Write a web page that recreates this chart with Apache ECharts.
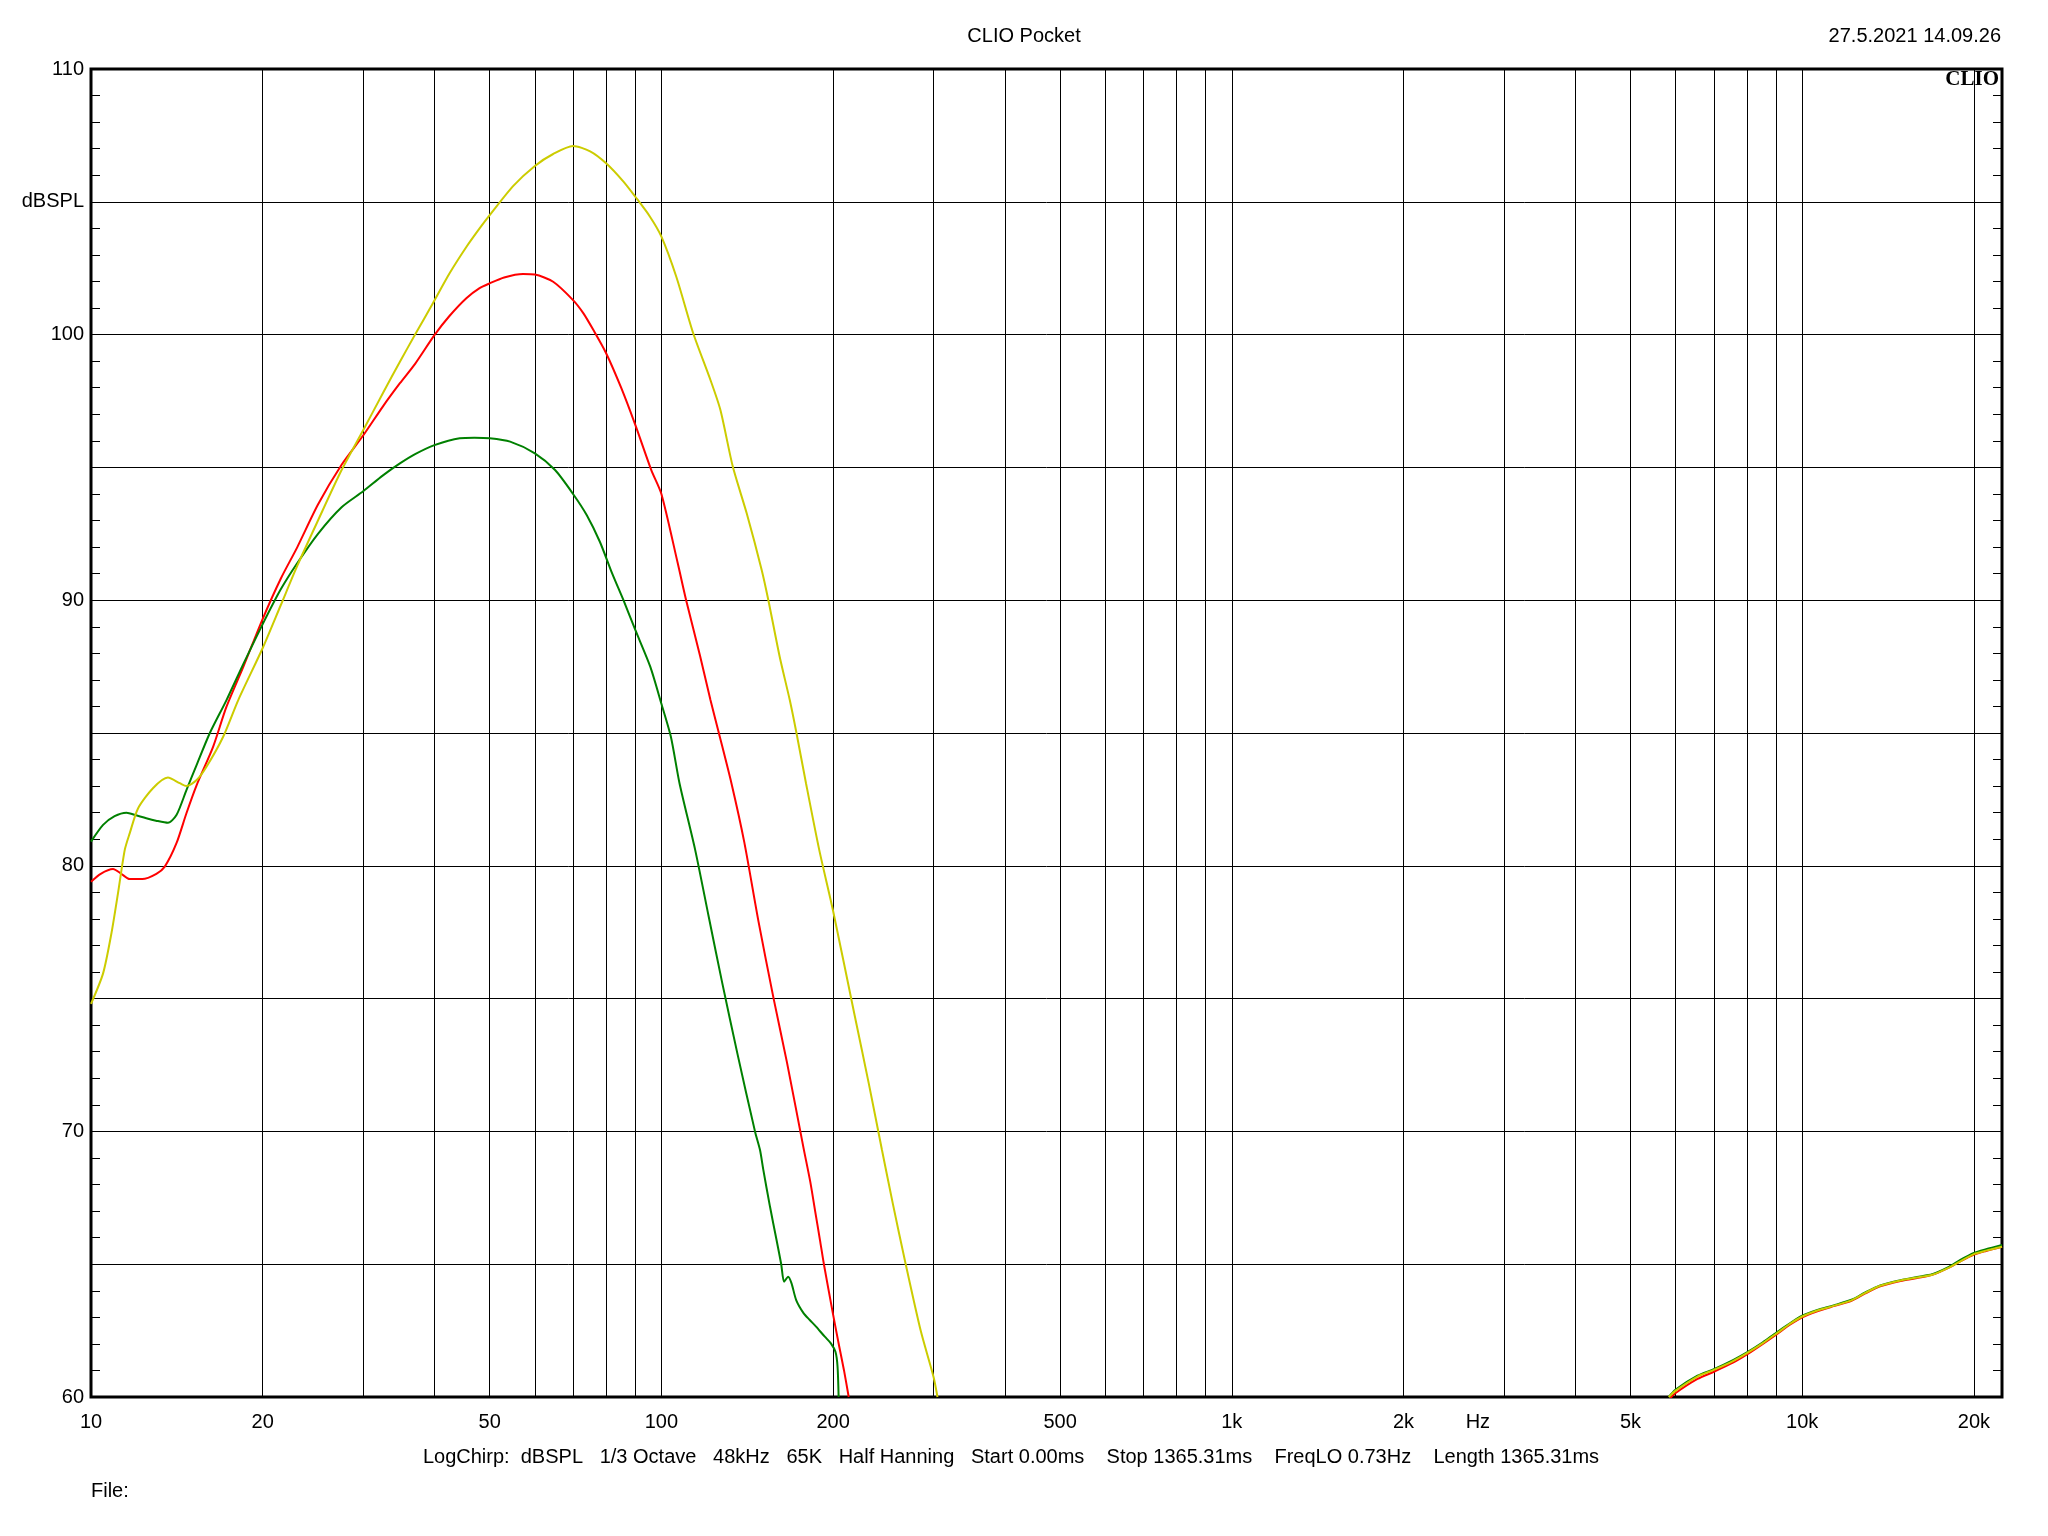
<!DOCTYPE html>
<html><head><meta charset="utf-8">
<script src="https://cdn.jsdelivr.net/npm/echarts@6/dist/echarts.min.js"></script>
<style>html,body{margin:0;padding:0;background:#fff}#c{width:2048px;height:1536px}</style>
</head><body><div id="c"></div>
<script>
// ---- axis definitions ----
const gridFreqs = [10,20,30,40,50,60,70,80,90,100,200,300,400,500,600,700,800,900,
  1000,2000,3000,4000,5000,6000,7000,8000,9000,10000,20000];
const xLabelValues = [10,20,50,100,200,500,1000,2000,2700,5000,10000,20000];
const xLabelTexts  = ['10','20','50','100','200','500','1k','2k','Hz','5k','10k','20k'];
const yLabelValues = [110,105,100,90,80,70,60];
const yLabelTexts  = ['110','dBSPL','100','90','80','70','60'];

// ---- red trace ----
const redFreq = [10,10.4,10.93,11.3,11.69,12.3,13.02,13.47,14.12,14.7,15.32,16.37,17.28,18.5,20,21.5,23,25,27.5,30,32.5,34.8,37,40,42.5,45.5,48,50,53,57.2,60,64.6,70,73,76,80,85,90,96,100,106.8,110.5,116.9,121.9,126.1,132.7,139.7,148,157.3,166,177.4,182.4,186,189.7,192.7,200,205,209,213,
  null,
  5834,6000,6552,7000,7576,8000,8530,9000,9560,10000,10600,11350,12200,12900,13700,14870,15900,16900,18000,18900,20000,21000,22400];
const redDb = [79.4,79.7,79.88,79.7,79.5,79.5,79.7,79.97,80.85,81.98,83.04,84.48,85.99,87.5,89.3,90.8,92.0,93.6,95.1,96.2,97.3,98.17,98.9,99.98,100.7,101.37,101.75,101.93,102.15,102.28,102.26,101.99,101.3,100.8,100.17,99.3,98.0,96.6,94.9,94.0,91.4,90.0,87.9,86.24,85.0,83.1,80.9,77.9,75.0,72.6,69.4,68.1,67.0,65.9,65.0,63.1,61.9,61.0,60.0,
  null,
  59.9,60.15,60.68,60.95,61.3,61.6,62.0,62.35,62.75,63.0,63.22,63.42,63.62,63.9,64.17,64.37,64.48,64.6,64.85,65.1,65.36,65.5,65.66];

// ---- green trace ----
const greenFreq = [10,10.5,11.0,11.54,12.0,12.5,13.0,13.64,14.12,14.7,15.32,16.15,17.28,18.5,20,21.5,23,25,27.5,30,32.5,34.8,37,40,44.3,47,50,54.3,60,65.1,70,74,78,82,85.8,90,95.6,100,103.9,107.6,114.6,121,127.8,136,145.9,148.9,150.9,155,159.2,162.2,164.1,166.8,169.1,172.3,177.6,182,186.7,193.4,198.2,201.9,203.6,204.5,
  null,
  5834,6000,6552,7000,7576,8000,8530,9000,9560,10000,10600,11350,12200,12900,13700,14870,15900,16900,18000,18900,20000,21000,22400];
const greenDb = [80.91,81.54,81.87,82.0,81.9,81.79,81.7,81.62,81.91,82.85,83.8,84.99,86.24,87.6,89.1,90.4,91.4,92.5,93.5,94.1,94.7,95.15,95.5,95.84,96.1,96.12,96.1,95.97,95.53,94.9,94.0,93.2,92.2,91.0,90.0,88.88,87.5,86.1,84.86,83.1,80.6,78.1,75.6,72.9,70.0,69.3,68.55,67.17,65.9,65.0,64.34,64.53,64.28,63.65,63.15,62.9,62.65,62.27,62.02,61.7,61.15,60.0,
  null,
  60.0,60.28,60.8,61.05,61.4,61.68,62.06,62.42,62.8,63.06,63.27,63.45,63.66,63.94,64.2,64.4,64.52,64.62,64.88,65.15,65.42,65.56,65.72];

// ---- yellow trace ----
const yellowFreq = [10,10.5,10.86,11.15,11.46,11.69,12.09,12.84,13.64,14.31,14.7,15.32,15.94,17.05,18.12,20,21.5,23,25,27.5,30,32.5,34.8,37,39.8,42.5,45.5,48,50,55,60,64.6,70,75,80,85.8,90,95.5,100,106.2,113.7,121.9,126.9,133.4,141.1,149.9,154,161.2,167.9,172.5,179.3,189.1,200,218,231,243.6,254.4,268.1,284.8,300,304.8,
  null,
  5834,6000,6552,7000,7576,8000,8530,9000,9560,10000,10600,11350,12200,12900,13700,14870,15900,16900,18000,18900,20000,21000,22400];
const yellowDb = [74.8,75.95,77.46,78.96,80.6,81.22,82.16,82.92,83.32,83.11,83.0,83.23,83.73,84.86,86.24,88.2,89.8,91.3,93.0,94.9,96.4,97.8,98.98,100.0,101.2,102.3,103.3,104.0,104.5,105.6,106.35,106.8,107.1,106.9,106.45,105.76,105.19,104.44,103.69,102.18,100.05,98.29,97.16,95.03,93.27,91.14,90.0,87.87,86.24,85.0,83.1,80.6,78.3,74.4,71.8,69.3,67.3,65.0,62.5,60.75,60.0,
  null,
  60.0,60.24,60.77,61.02,61.36,61.65,62.03,62.38,62.78,63.03,63.25,63.43,63.64,63.92,64.19,64.39,64.5,64.6,64.85,65.1,65.38,65.51,65.66];

function pairs(fs, ds){
  return fs.map((f,i) => (f === null || ds[i] === null) ? ['-','-'] : [f, ds[i]]);
}

const FONT = 'Liberation Sans';
const FS = 20;
const chart = echarts.init(document.getElementById('c'), null, {renderer:'canvas'});

const yAxisBase = {
  type:'value', min:60, max:110, interval:5,
  axisLine:{show:false},
  axisTick:{show:true, inside:true, length:9, lineStyle:{color:'#000', width:1}},
  minorTick:{show:true, splitNumber:5, length:9, lineStyle:{color:'#000', width:1}},
};

const lineBase = {type:'line', showSymbol:false, symbol:'none', smooth:0.25, connectNulls:false,
  clip:true, animation:false};

chart.setOption({
  backgroundColor:'#fff',
  animation:false,
  grid:{left:91, top:69, right:46, bottom:139, show:true, borderColor:'#000', borderWidth:3, backgroundColor:'transparent'},
  xAxis:{
    type:'log', logBase:10, min:10, max:22400,
    axisLine:{show:false},
    axisTick:{show:false, customValues:gridFreqs},
    splitLine:{show:true, lineStyle:{color:'#000', width:1}},
    axisLabel:{
      customValues:xLabelValues,
      formatter: v => { const i = xLabelValues.findIndex(x => Math.abs(x - v) < 1e-6 * x); return i >= 0 ? xLabelTexts[i] : ''; },
      fontSize:FS, color:'#000', fontFamily:FONT, margin:15, showMinLabel:true, showMaxLabel:true
    }
  },
  yAxis:[
    Object.assign({}, yAxisBase, {
      position:'left',
      splitLine:{show:true, lineStyle:{color:'#000', width:1}},
      axisLabel:{fontSize:FS, color:'#000', fontFamily:FONT, margin:7,
        formatter: v => { const i = yLabelValues.indexOf(v); return i >= 0 ? yLabelTexts[i] : ''; }}
    }),
    Object.assign({}, yAxisBase, {
      position:'right',
      splitLine:{show:false},
      axisLabel:{show:false}
    })
  ],
  series:[
    Object.assign({}, lineBase, {name:'red', data:pairs(redFreq, redDb), lineStyle:{color:'#ff0000', width:2}, itemStyle:{color:'#ff0000'}}),
    Object.assign({}, lineBase, {name:'green', data:pairs(greenFreq, greenDb), lineStyle:{color:'#008000', width:2}, itemStyle:{color:'#008000'}}),
    Object.assign({}, lineBase, {name:'yellow', data:pairs(yellowFreq, yellowDb), lineStyle:{color:'#cccc00', width:2}, itemStyle:{color:'#cccc00'}})
  ],
  graphic:[
    {type:'text', x:1024, y:36, style:{text:'CLIO Pocket', fontSize:FS, fontFamily:FONT, fill:'#000', align:'center', verticalAlign:'middle'}},
    {type:'text', x:2001, y:36, style:{text:'27.5.2021 14.09.26', fontSize:FS, fontFamily:FONT, fill:'#000', align:'right', verticalAlign:'middle'}},
    {type:'text', x:1999, y:80, z:100, style:{text:'CLIO', fontSize:21, fontWeight:'bold', fontFamily:'Liberation Serif', fill:'#000', align:'right', verticalAlign:'middle'}},
    {type:'text', x:1011, y:1457, style:{text:'LogChirp:  dBSPL   1/3 Octave   48kHz   65K   Half Hanning   Start 0.00ms    Stop 1365.31ms    FreqLO 0.73Hz    Length 1365.31ms', fontSize:FS, fontFamily:FONT, fill:'#000', align:'center', verticalAlign:'middle'}},
    {type:'text', x:91, y:1491, style:{text:'File:', fontSize:FS, fontFamily:FONT, fill:'#000', align:'left', verticalAlign:'middle'}}
  ]
});
</script>
</body></html>
